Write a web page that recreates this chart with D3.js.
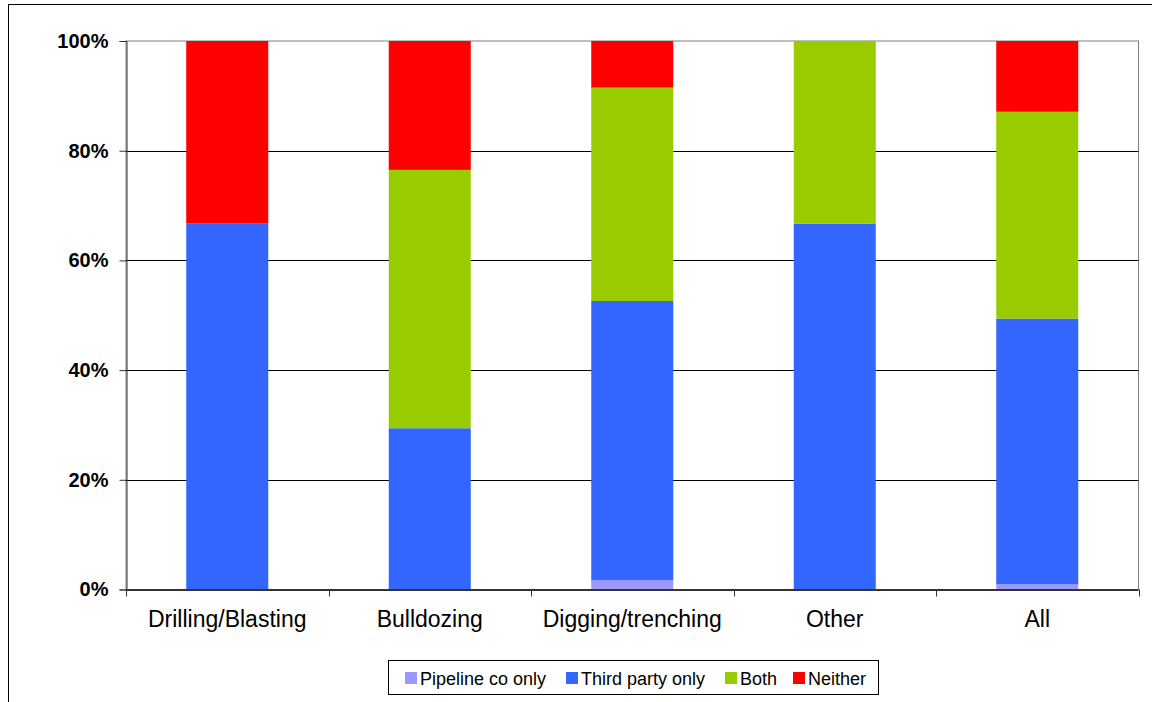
<!DOCTYPE html>
<html>
<head>
<meta charset="utf-8">
<script src="https://cdn.jsdelivr.net/npm/d3@7"></script>
<style>
  body { margin: 0; background: #fff; }
  svg { display: block; font-family: Arial, "Liberation Sans", sans-serif; }
</style>
</head>
<body>
<svg id="chart" width="1152" height="702"></svg>
<script>
// categories and series (percent of each column)
var categories = ["Drilling/Blasting", "Bulldozing", "Digging/trenching", "Other", "All"];
var seriesNames = ["Pipeline co only", "Third party only", "Both", "Neither"];
var seriesColors = ["#9999ff", "#3366ff", "#99cc00", "#ff0000"];

var pipelineOnly = [0, 0, 1.7, 0, 1.0];
var thirdPartyOnly = [66.7, 29.4, 50.9, 66.7, 48.4];
var both = [0, 47.1, 38.9, 33.3, 37.7];
var neither = [33.3, 23.5, 8.5, 0, 12.9];

var yTicks = [0, 20, 40, 60, 80, 100];

var svg = d3.select("#chart");

var plot = { left: 126, right: 1138.5, top: 41, bottom: 589.5 };

// outer chart frame (runs off the right/bottom of the image)
svg.append("rect")
  .attr("x", 8.5).attr("y", 4.5)
  .attr("width", 1160).attr("height", 720)
  .attr("fill", "none").attr("stroke", "#000").attr("stroke-width", 1);

var x = d3.scaleBand().domain(categories).range([plot.left, plot.right]).padding(0);
var y = d3.scaleLinear().domain([0, 100]).range([plot.bottom, plot.top]);

var barW = x.bandwidth() * 0.405;

// plot area border
svg.append("rect")
  .attr("x", plot.left).attr("y", plot.top)
  .attr("width", plot.right - plot.left).attr("height", plot.bottom - plot.top)
  .attr("fill", "none").attr("stroke", "#808080").attr("stroke-width", 1);

// gridlines
svg.append("g").selectAll("line")
  .data(yTicks.filter(function(t) { return t > 0 && t < 100; }))
  .enter().append("line")
  .attr("x1", plot.left).attr("x2", plot.right)
  .attr("y1", function(d) { return Math.round(y(d)) + 0.5; })
  .attr("y2", function(d) { return Math.round(y(d)) + 0.5; })
  .attr("stroke", "#000").attr("stroke-width", 1);

// stacked bars
var rows = categories.map(function(c, i) {
  return { cat: c, p: pipelineOnly[i], t: thirdPartyOnly[i], b: both[i], n: neither[i] };
});
var stack = d3.stack().keys(["p", "t", "b", "n"]);
var layers = stack(rows);

svg.append("g").selectAll("g")
  .data(layers)
  .enter().append("g")
  .attr("fill", function(d, i) { return seriesColors[i]; })
  .selectAll("rect")
  .data(function(d) { return d; })
  .enter().append("rect")
  .attr("x", function(d) { return x(d.data.cat) + (x.bandwidth() - barW) / 2; })
  .attr("width", barW)
  .attr("y", function(d) { return y(d[1]); })
  .attr("height", function(d) { return y(d[0]) - y(d[1]); });

// y axis
var yAxis = svg.append("g")
  .attr("transform", "translate(" + (plot.left + 0.5) + ",0)")
  .call(d3.axisLeft(y).tickValues(yTicks).tickFormat(function(d) { return d + "%"; })
    .tickSize(7).tickPadding(11));
yAxis.select(".domain").attr("stroke", "#333");
yAxis.selectAll(".tick line").attr("stroke", "#333");
yAxis.selectAll(".tick text")
  .attr("fill", "#000")
  .style("font-size", "20px")
  .style("font-weight", "bold")
  .style("font-family", "Arial, 'Liberation Sans', sans-serif");

// x axis: ticks at category boundaries
var xAxisG = svg.append("g");
xAxisG.append("line")
  .attr("x1", plot.left).attr("x2", plot.right)
  .attr("y1", plot.bottom + 0.5).attr("y2", plot.bottom + 0.5)
  .attr("stroke", "#333").attr("stroke-width", 2);
var bounds = categories.map(function(c) { return x(c); }).concat([plot.right]);
xAxisG.selectAll("line.tk")
  .data(bounds).enter().append("line").attr("class", "tk")
  .attr("x1", function(d) { return Math.round(d) + 0.5; })
  .attr("x2", function(d) { return Math.round(d) + 0.5; })
  .attr("y1", plot.bottom).attr("y2", plot.bottom + 7)
  .attr("stroke", "#333").attr("stroke-width", 1);
xAxisG.selectAll("text")
  .data(categories).enter().append("text")
  .attr("x", function(d) { return x(d) + x.bandwidth() / 2; })
  .attr("y", 627)
  .attr("text-anchor", "middle")
  .style("font-size", "23px")
  .attr("fill", "#000")
  .text(function(d) { return d; });

// legend
var legend = svg.append("g");
legend.append("rect")
  .attr("x", 388.5).attr("y", 660.5).attr("width", 490).attr("height", 34)
  .attr("fill", "#fff").attr("stroke", "#000").attr("stroke-width", 1);
var legendX = [405, 566, 725, 793];
var items = legend.selectAll("g.item")
  .data(seriesNames).enter().append("g").attr("class", "item")
  .attr("transform", function(d, i) { return "translate(" + legendX[i] + ",0)"; });
items.append("rect")
  .attr("x", 0).attr("y", 672).attr("width", 12).attr("height", 12)
  .attr("fill", function(d, i) { return seriesColors[i]; });
items.append("text")
  .attr("x", 15).attr("y", 685)
  .style("font-size", "18px")
  .attr("fill", "#000")
  .text(function(d) { return d; });
</script>
</body>
</html>
